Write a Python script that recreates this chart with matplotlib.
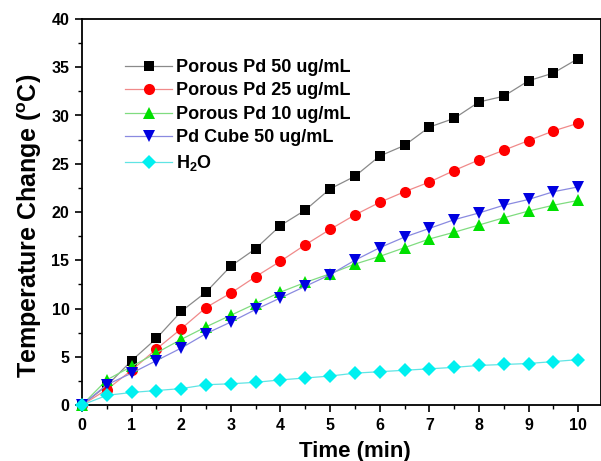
import matplotlib
matplotlib.use('Agg')
import matplotlib.pyplot as plt
from matplotlib.ticker import MultipleLocator

#************************DATA************************
timeMin = [0, 0.5, 1, 1.5, 2, 2.5, 3, 3.5, 4, 4.5, 5, 5.5, 6, 6.5, 7, 7.5, 8, 8.5, 9, 9.5, 10]
porousPd50 = [0, 2.0, 4.6, 6.9, 9.7, 11.7, 14.4, 16.2, 18.6, 20.2, 22.4, 23.7, 25.8, 26.9, 28.8, 29.7, 31.4, 32.0, 33.6, 34.4, 35.9]
porousPd25 = [0, 1.6, 3.6, 5.8, 7.9, 10.1, 11.6, 13.3, 14.9, 16.6, 18.2, 19.7, 21.0, 22.1, 23.1, 24.3, 25.4, 26.4, 27.4, 28.4, 29.2]
porousPd10 = [0, 2.6, 4.0, 5.4, 6.8, 8.1, 9.3, 10.5, 11.7, 12.7, 13.6, 14.6, 15.4, 16.3, 17.2, 17.9, 18.65, 19.4, 20.1, 20.7, 21.2]
pdCube50 = [0, 2.1, 3.3, 4.6, 5.9, 7.4, 8.6, 9.9, 11.1, 12.3, 13.5, 15.0, 16.3, 17.4, 18.3, 19.2, 19.9, 20.7, 21.3, 22.1, 22.6]
water = [0, 1.0, 1.3, 1.5, 1.7, 2.1, 2.2, 2.35, 2.6, 2.8, 3.0, 3.3, 3.45, 3.6, 3.75, 3.9, 4.1, 4.2, 4.3, 4.5, 4.7]

seriesLabels = ['Porous Pd 50 ug/mL', 'Porous Pd 25 ug/mL', 'Porous Pd 10 ug/mL', 'Pd Cube 50 ug/mL', 'H$_2$O']
seriesData = [porousPd50, porousPd25, porousPd10, pdCube50, water]

#************************STYLE************************
markerColors = ['#000000', '#FF0000', '#00E000', '#0000E0', '#00F0F0']
lineColors = ['#8A8A8A', '#F08A8A', '#80DC80', '#8A8AE0', '#60E4E4']
markerList = ['s', 'o', '^', 'v', 'D']
markerSizes = [7, 8, 8, 8, 7]

plt.rcParams['font.family'] = ['Liberation Sans', 'DejaVu Sans']
plt.rcParams['font.weight'] = 'bold'
plt.rcParams['mathtext.fontset'] = 'custom'
plt.rcParams['mathtext.rm'] = 'Liberation Sans:bold'
plt.rcParams['mathtext.it'] = 'Liberation Sans:bold'
plt.rcParams['mathtext.bf'] = 'Liberation Sans:bold'

fig = plt.figure(figsize=(6.01, 4.61), dpi=100)
ax = fig.add_axes([82/601, 1 - 405/461, 1 - 82/601, (405 - 19)/461])

for index in range(len(seriesData)):
	ax.plot(timeMin, seriesData[index], color=lineColors[index], linewidth=0.9,
		marker=markerList[index], markersize=markerSizes[index],
		markerfacecolor=markerColors[index], markeredgewidth=0,
		label=seriesLabels[index], clip_on=False, zorder=3 + index)

ax.set_xlim(0, 10.46)
ax.set_ylim(0, 40)
ax.xaxis.set_major_locator(MultipleLocator(1))
ax.xaxis.set_minor_locator(MultipleLocator(0.5))
ax.yaxis.set_major_locator(MultipleLocator(5))
ax.yaxis.set_minor_locator(MultipleLocator(2.5))
ax.tick_params(which='major', direction='out', length=5, width=1.2, labelsize=11.5, pad=4)
ax.tick_params(which='minor', direction='out', length=3, width=1.0)
for spine in ax.spines.values():
	spine.set_linewidth(1.3)

ax.set_xlabel('Time (min)', fontsize=16, fontweight='bold')
ax.set_ylabel('Temperature Change ($^{o}$C)', fontsize=18, fontweight='bold')
ax.xaxis.set_label_coords(0.526, -0.092)
ax.yaxis.set_label_coords(-0.074, 0.464)

legend = ax.legend(loc='upper left', bbox_to_anchor=(0.066, 0.92), frameon=False,
	fontsize=13, handlelength=2.6, handletextpad=0.2, labelspacing=0.36, borderpad=0)
for text in legend.get_texts():
	text.set_fontweight('bold')

fig.savefig('out.png', dpi=100)
